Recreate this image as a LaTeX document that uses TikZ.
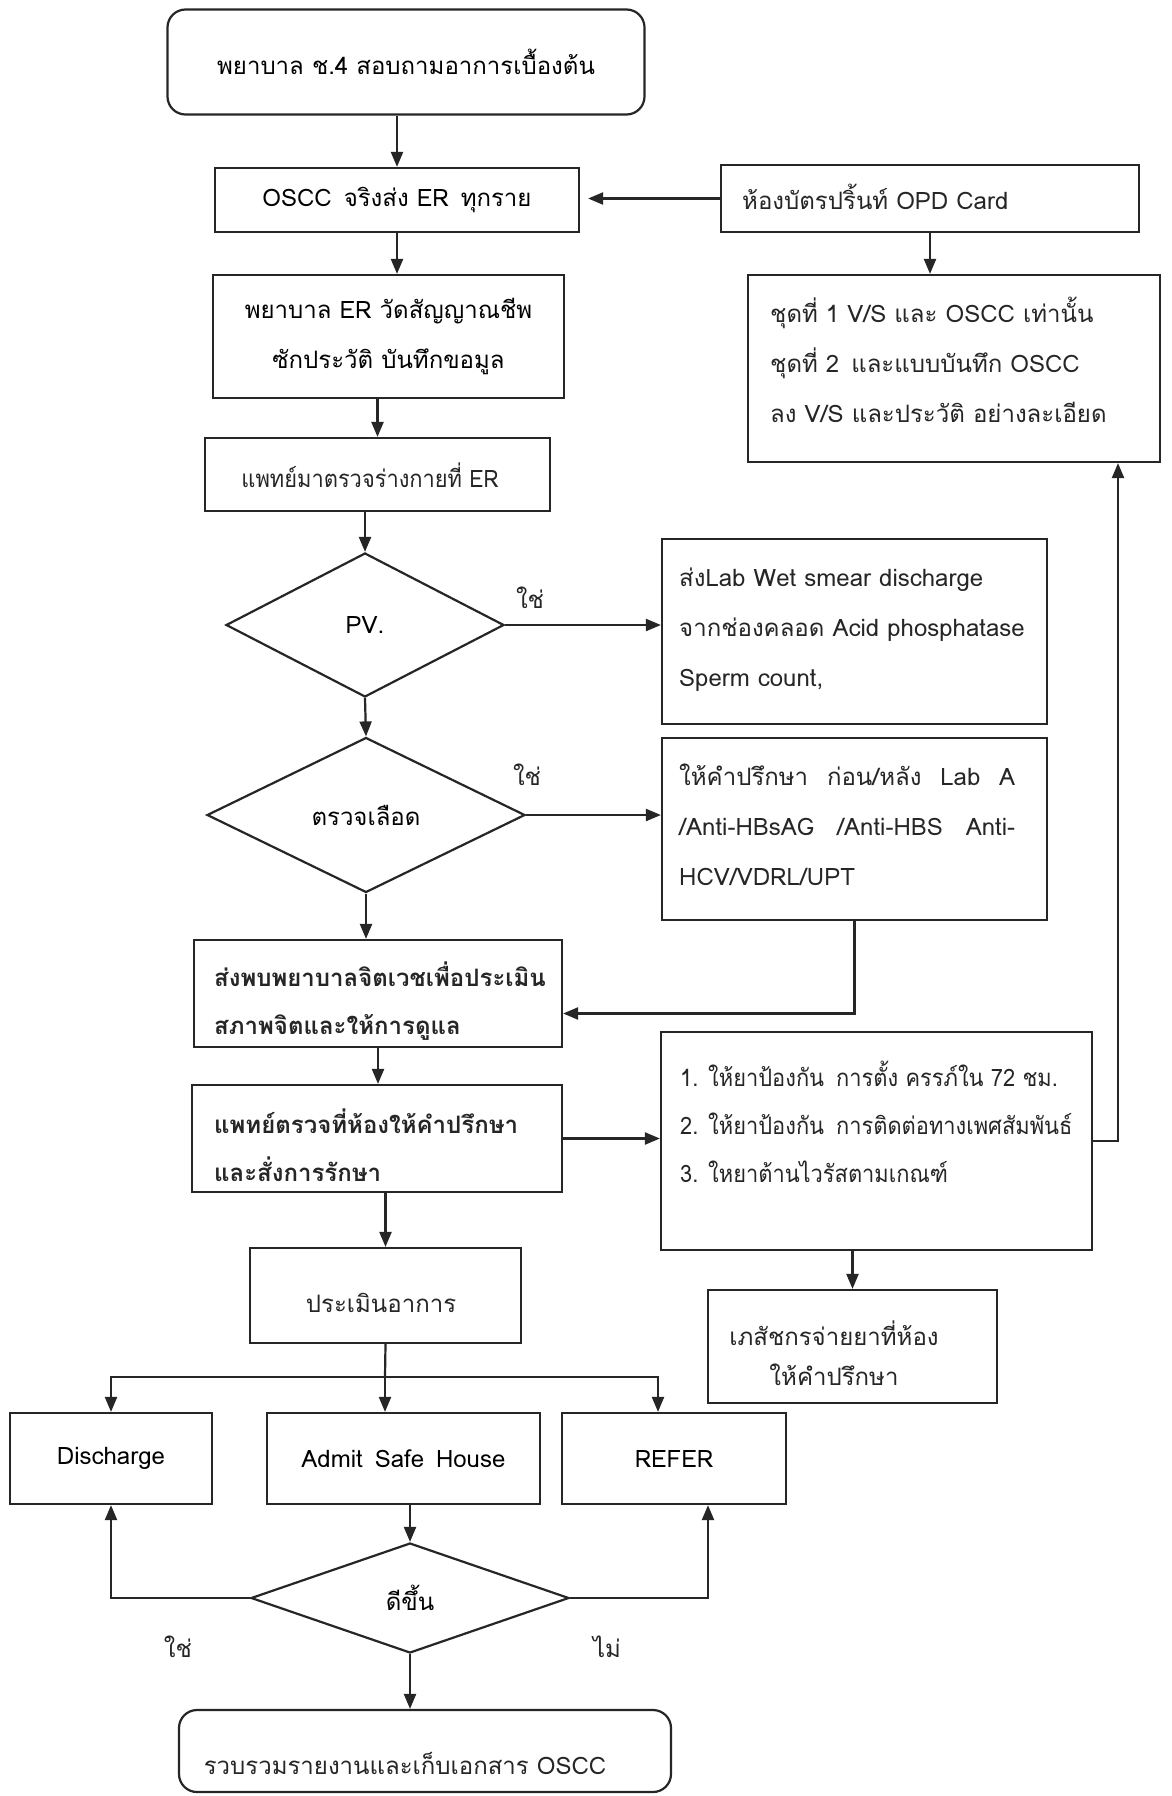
\documentclass[tikz,border=0pt]{standalone}
\usepackage{fontspec}
\setmainfont{Loma}[Script=Thai]
\newfontfamily\narrowthai{Loma}[Script=Thai, FakeStretch=0.91]
\usetikzlibrary{shapes.geometric,arrows.meta,calc}
\definecolor{ink}{HTML}{262626}
\begin{document}
\begin{tikzpicture}[x=1pt,y=-1pt,
  box/.style={draw=ink, line width=2.2pt, rectangle, inner sep=0pt, align=center,
    font=\fontsize{24}{50}\selectfont},
  rbox/.style={box, rounded corners=18pt},
  dia/.style={draw=ink, line width=2.2pt, diamond, inner sep=0pt,
    font=\fontsize{24}{50}\selectfont},
  arr/.style={draw=ink, line width=2.2pt, -{Triangle[length=15pt,width=12pt]}},
  ln/.style={draw=ink, line width=2.2pt},
  txt/.style={inner sep=0pt, text=ink, font=\fontsize{24}{50}\selectfont},
  ntxt/.style={inner sep=0pt, text=ink, font=\narrowthai\fontsize{24}{48}\selectfont},
  btxt/.style={inner sep=0pt, text=ink, font=\fontsize{24}{48}\selectfont\bfseries},
]
\fill[white] (0,0) rectangle (1172,1796);
\useasboundingbox (0,0) rectangle (1172,1796);

% boxes
\node[rbox, minimum width=477pt, minimum height=105pt] (A) at (406,62) {พยาบาล ช.4 สอบถามอาการเบื้องต้น};
\node[box, minimum width=364pt, minimum height=64pt] (B) at (397,200) {OSCC\enspace จริงส่ง ER\enspace ทุกราย};
\node[box, minimum width=418pt, minimum height=67pt] (C) at (930,198.5) {};
\node[txt, anchor=west] (Ct) at (742,197) {ห้องบัตรปริ้นท์ OPD Card};
\node[box, minimum width=351pt, minimum height=123pt] (D) at (388.5,336.5) {พยาบาล ER วัดสัญญาณชีพ\\ซักประวัติ บันทึกขอมูล};
\node[box, minimum width=412pt, minimum height=187pt] (E) at (954,368.5) {};
\node[txt, anchor=west, align=left] (Et) at (770,360) {ชุดที่ 1 V/S และ OSCC เท่านั้น\\ชุดที่ 2\enspace และแบบบันทึก OSCC\\ลง V/S และประวัติ อย่างละเอียด};
\node[box, minimum width=345pt, minimum height=73pt] (F) at (377.5,474.5) {};
\node[ntxt] (Ft) at (370,475) {แพทย์มาตรวจร่างกายที่ ER};
\node[dia, minimum width=278pt, minimum height=144pt] (G) at (365,625) {PV.};
\node[box, minimum width=385pt, minimum height=185pt] (H) at (854.5,631.5) {};
\node[txt, anchor=west, align=left] (Ht) at (679,630) {ส่งLab Wet smear discharge\\จากช่องคลอด Acid phosphatase\\Sperm count,};
\node[dia, minimum width=318pt, minimum height=155pt] (I) at (366,815) {ตรวจเลือด};
\node[box, minimum width=385pt, minimum height=182pt] (J) at (854.5,829) {};
\node[txt, anchor=west, align=left] (Jt) at (679,825) {\makebox[336pt][l]{ให้คำปรึกษา\hfill ก่อน/หลัง\hfill Lab\hfill A}\\\makebox[336pt][l]{/Anti-HBsAG\hfill /Anti-HBS\hfill Anti-}\\HCV/VDRL/UPT};
\node[box, minimum width=368pt, minimum height=107pt] (K) at (378,993.5) {};
\node[btxt, anchor=west, align=left] (Kt) at (214,1001) {ส่งพบพยาบาลจิตเวชเพื่อประเมิน\\สภาพจิตและให้การดูแล};
\node[box, minimum width=370pt, minimum height=107pt] (L) at (377,1138.5) {};
\node[btxt, anchor=west, align=left] (Lt) at (214,1145) {แพทย์ตรวจที่ห้องให้คำปรึกษา\\และสั่งการรักษา};
\node[box, minimum width=431pt, minimum height=218pt] (M) at (876.5,1141) {};
\node[ntxt, anchor=west, align=left] (Mt) at (680,1122) {1. ให้ยาป้องกัน\enspace การตั้ง ครรภ์ใน 72 ชม.\\2. ให้ยาป้องกัน\enspace การติดต่อทางเพศสัมพันธ์\\3. ใหยาต้านไวรัสตามเกณฑ์};
\node[box, minimum width=289pt, minimum height=113pt] (N) at (852.5,1346.5) {};
\node[txt, align=center, font=\fontsize{24}{40}\selectfont] (Nt) at (834,1353) {เภสัชกรจ่ายยาที่ห้อง\\ให้คำปรึกษา};
\node[box, minimum width=271pt, minimum height=95pt] (O) at (385.5,1295.5) {};
\node[txt] (Ot) at (381,1303) {ประเมินอาการ};
\node[box, minimum width=202pt, minimum height=91pt] (P) at (111,1458.5) {Discharge};
\node[box, minimum width=273pt, minimum height=91pt] (Q) at (403.5,1458.5) {Admit\enspace Safe\enspace House};
\node[box, minimum width=224pt, minimum height=91pt] (R) at (674,1458.5) {REFER};
\node[dia, minimum width=318pt, minimum height=110pt] (S) at (410,1598) {ดีขึ้น};
\node[rbox, minimum width=492pt, minimum height=82pt] (T) at (425,1751) {};
\node[txt] (Tt) at (405,1763) {รวบรวมรายงานและเก็บเอกสาร OSCC};

% labels
\node[txt] (y1) at (530,598) {ใช่};
\node[txt] (y2) at (527,775) {ใช่};
\node[txt] (y3) at (178,1647) {ใช่};
\node[txt] (n3) at (607,1647) {ไม่};

% connectors
\draw[arr] (A.south -| B.north) -- (B.north);
\draw[arr, shorten >=8pt] (C.west) -- (C.west -| B.east);
\draw[arr] (B.south) -- (B.south |- D.north);
\draw[arr] (C.south) -- (C.south |- E.north);
\draw[arr] (F.north |- D.south) -- (F.north);
\draw[arr] (G.north |- F.south) -- (G.north);
\draw[arr] (G.east) -- (G.east -| H.west);
\draw[arr] (G.south) -- (I.north);
\draw[arr] (I.east) -- (I.east -| J.west);
\draw[arr] (I.south) -- (I.south |- K.north);
\draw[arr] (J.south) |- ([yshift=-20pt]K.east);
\draw[arr] (K.south) -- (K.south |- L.north);
\draw[arr] (L.east) -- (L.east -| M.west);
\coordinate (fb) at (1118,1141);
\draw[arr] (M.east) -- (fb) -- (fb |- E.south);
\draw[arr] (N.north |- M.south) -- (N.north);
\draw[arr] (O.north |- L.south) -- (O.north);
\coordinate (br) at (385,1377);
\draw[ln] (O.south) -- (br);
\draw[arr] (br) -| (P.north);
\draw[arr] (br) -- (br |- Q.north);
\draw[arr] (br) -| ([xshift=-16pt]R.north);
\draw[arr] (S.north |- Q.south) -- (S.north);
\draw[arr] (S.west) -| (P.south);
\draw[arr] (S.east) -| ([xshift=34pt]R.south);
\draw[arr] (S.south) -- (S.south |- T.north);
\end{tikzpicture}
\end{document}
